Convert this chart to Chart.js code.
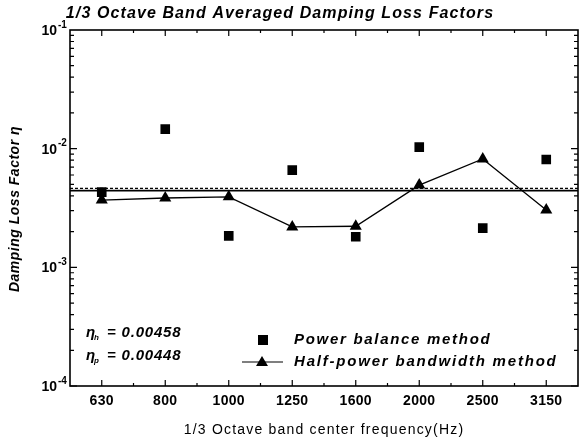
<!DOCTYPE html>
<html>
<head>
<meta charset="utf-8">
<script src="https://cdn.jsdelivr.net/npm/chart.js@4.4.1/dist/chart.umd.min.js"></script>
<style>
  body { margin: 0; background: #fff; }
  #wrap { width: 585px; height: 437px; position: relative; }
</style>
</head>
<body>
<div id="wrap"><canvas id="dlf"></canvas></div>
<script>
// 1/3 octave band centres and measured loss factors
const bands = ['630', '800', '1000', '1250', '1600', '2000', '2500', '3150'];
const powerBalance = [0.0043, 0.0146, 0.00184, 0.0066, 0.00181, 0.0103, 0.00214, 0.0081];
const halfPower = [0.00369, 0.00384, 0.00393, 0.00219, 0.00222, 0.00493, 0.00818, 0.00304];

// band-averaged values
const etaH = 0.00458;
const etaP = 0.00448;

// y axis decades and their exponent labels
const decades = [1e-4, 1e-3, 1e-2, 1e-1];
const decadeExp = ['-4', '-3', '-2', '-1'];

const FONT = '"Liberation Sans", Arial, sans-serif';

function txt(ctx, s, x, y, font, align, spacing) {
    ctx.font = font;
    ctx.textAlign = align || 'left';
    ctx.letterSpacing = (spacing || 0) + 'px';
    ctx.fillText(s, x, y);
    ctx.letterSpacing = '0px';
}

const decorPlugin = {
    id: 'decor',
    beforeDatasetsDraw(chart) {
        const ctx = chart.ctx;
        const a = chart.chartArea;
        const y = chart.scales.y;
        ctx.save();
        // average lines
        ctx.strokeStyle = '#000';
        ctx.lineWidth = 1.2;
        ctx.setLineDash([3, 2]);
        ctx.beginPath();
        ctx.moveTo(a.left, y.getPixelForValue(etaH) - 0.5);
        ctx.lineTo(a.right, y.getPixelForValue(etaH) - 0.5);
        ctx.stroke();
        ctx.setLineDash([]);
        ctx.lineWidth = 1.8;
        ctx.beginPath();
        ctx.moveTo(a.left, y.getPixelForValue(etaP) + 0.5);
        ctx.lineTo(a.right, y.getPixelForValue(etaP) + 0.5);
        ctx.stroke();
        ctx.restore();
    },
    afterDraw(chart) {
        const ctx = chart.ctx;
        const a = chart.chartArea;
        const x = chart.scales.x;
        const y = chart.scales.y;
        ctx.save();
        ctx.fillStyle = '#000';
        ctx.strokeStyle = '#000';

        // frame
        ctx.lineWidth = 1.6;
        ctx.strokeRect(a.left, a.top, a.right - a.left, a.bottom - a.top);

        // y ticks (log minor ticks), inward on both sides
        ctx.lineWidth = 1.2;
        ctx.beginPath();
        decades.forEach((d, i) => {
            if (i === decades.length - 1) return;
            for (let m = 1; m < 10; m++) {
                const py = y.getPixelForValue(d * m);
                const len = m === 1 ? 7 : 4;
                ctx.moveTo(a.left, py); ctx.lineTo(a.left + len, py);
                ctx.moveTo(a.right, py); ctx.lineTo(a.right - len, py);
            }
        });
        // x ticks at band centres and half way between
        bands.forEach((b, i) => {
            const px = x.getPixelForValue(i);
            ctx.moveTo(px, a.bottom); ctx.lineTo(px, a.bottom - 6);
            ctx.moveTo(px, a.top); ctx.lineTo(px, a.top + 6);
            if (i < bands.length - 1) {
                const mx = x.getPixelForValue(i + 0.5);
                ctx.moveTo(mx, a.bottom); ctx.lineTo(mx, a.bottom - 3);
                ctx.moveTo(mx, a.top); ctx.lineTo(mx, a.top + 3);
            }
        });
        ctx.stroke();

        ctx.textBaseline = 'middle';

        // y tick labels 10^n
        decades.forEach((d, i) => {
            const py = y.getPixelForValue(d);
            txt(ctx, '10', 57, py + 1, 'bold 14px ' + FONT, 'right');
            txt(ctx, decadeExp[i], 58, py - 5, 'bold 10px ' + FONT, 'left');
        });

        // x tick labels
        bands.forEach((b, i) => {
            txt(ctx, b, x.getPixelForValue(i), 401, 'bold 14px ' + FONT, 'center', 0.3);
        });

        // titles
        txt(ctx, '1/3 Octave Band Averaged Damping Loss Factors', 280, 14, 'bold italic 16px ' + FONT, 'center', 1.1);
        txt(ctx, '1/3 Octave band center frequency(Hz)', (a.left + a.right) / 2, 430, '14px ' + FONT, 'center', 1.2);
        ctx.save();
        ctx.translate(15, 209);
        ctx.rotate(-Math.PI / 2);
        txt(ctx, 'Damping Loss Factor \u03b7', 0, 0, 'bold italic 14px ' + FONT, 'center', 0.5);
        ctx.restore();

        // average annotations
        [['h', etaH, 333], ['p', etaP, 356]].forEach(r => {
            txt(ctx, '\u03b7', 86, r[2], 'bold italic 15px ' + FONT, 'left');
            txt(ctx, r[0], 94, r[2] + 5, 'bold italic 8px ' + FONT, 'left');
            txt(ctx, '= ' + r[1].toFixed(5), 107, r[2], 'bold italic 15px ' + FONT, 'left', 0.8);
        });

        // legend
        ctx.fillRect(258, 335, 10, 10);
        txt(ctx, 'Power balance method', 294, 340, 'bold italic 15px ' + FONT, 'left', 1.7);
        ctx.lineWidth = 1.2;
        ctx.beginPath();
        ctx.moveTo(242, 362); ctx.lineTo(283, 362);
        ctx.stroke();
        ctx.beginPath();
        ctx.moveTo(262, 356); ctx.lineTo(268, 366); ctx.lineTo(256, 366); ctx.closePath();
        ctx.fill();
        txt(ctx, 'Half-power bandwidth method', 294, 362, 'bold italic 15px ' + FONT, 'left', 1.8);

        ctx.restore();
    }
};

new Chart(document.getElementById('dlf'), {
    type: 'line',
    data: {
        labels: bands,
        datasets: [
            {
                label: 'Power balance method',
                data: powerBalance,
                showLine: false,
                pointStyle: 'rect',
                pointRadius: 6.8,
                backgroundColor: '#000',
                borderColor: '#000',
                borderWidth: 0
            },
            {
                label: 'Half-power bandwidth method',
                data: halfPower,
                pointStyle: 'triangle',
                pointRadius: 7,
                pointBackgroundColor: '#000',
                pointBorderColor: '#000',
                pointBorderWidth: 0,
                borderColor: '#000',
                borderWidth: 1.3,
                tension: 0
            }
        ]
    },
    options: {
        responsive: true,
        maintainAspectRatio: false,
        animation: false,
        layout: { padding: { left: 70, right: 4, top: 30, bottom: 51 } },
        plugins: {
            legend: { display: false },
            tooltip: { enabled: false }
        },
        scales: {
            x: { type: 'category', offset: true, display: false },
            y: { type: 'logarithmic', min: 1e-4, max: 1e-1, display: false }
        }
    },
    plugins: [decorPlugin]
});
</script>
</body>
</html>
